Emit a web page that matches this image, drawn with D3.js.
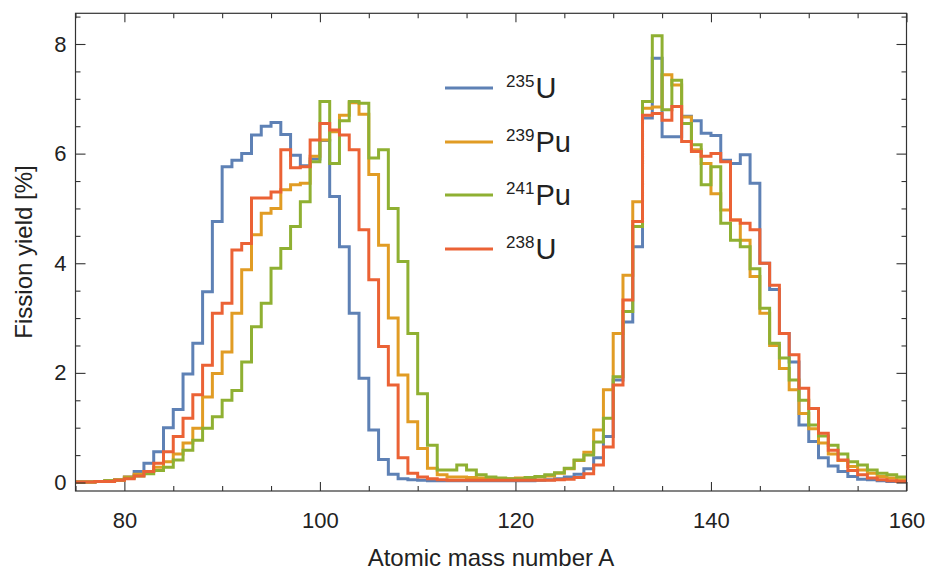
<!DOCTYPE html>
<html>
<head>
<meta charset="utf-8">
<script src="https://cdn.jsdelivr.net/npm/d3@7"></script>
<style>
  html, body { margin: 0; padding: 0; background: #fff; }
  svg { display: block; }
  text { font-family: "Liberation Sans", Arial, Helvetica, sans-serif; fill: #222; }
</style>
</head>
<body>
<svg id="chart" width="930" height="574"></svg>
<script>
// ---- data ----
const massNumbers = d3.range(75, 160); // A = 75 ... 159 (each step spans A..A+1)

const u235 = [
  0.01, 0.01, 0.02, 0.03, 0.05,                 // 75-79
  0.10, 0.20, 0.35, 0.56, 1.00, 1.33, 1.98, 2.54, 3.48, 4.76, // 80-89
  5.76, 5.88, 6.00, 6.34, 6.50, 6.57, 6.35, 5.97, 5.78, 5.90, // 90-99
  6.24, 5.22, 4.30, 3.09, 1.90, 0.96, 0.42, 0.15, 0.07, 0.05, // 100-109
  0.04, 0.03, 0.03, 0.03, 0.03, 0.03, 0.03, 0.03, 0.03, 0.03, // 110-119
  0.03, 0.03, 0.04, 0.05, 0.07, 0.10, 0.15, 0.25, 0.45, 0.84, // 120-129
  1.87, 2.93, 4.30, 6.65, 7.74, 6.31, 6.31, 6.68, 6.60, 6.37, // 130-139
  6.33, 5.88, 5.82, 5.98, 5.46, 4.00, 3.52, 2.72, 2.20, 1.05, // 140-149
  0.75, 0.45, 0.30, 0.20, 0.11, 0.06, 0.05, 0.03, 0.02, 0.02  // 150-159
];

const pu239 = [
  0.01, 0.01, 0.02, 0.03, 0.05,
  0.10, 0.15, 0.20, 0.28, 0.38, 0.52, 0.72, 0.99, 1.56, 1.99,
  2.38, 3.09, 3.88, 4.52, 4.91, 5.00, 5.34, 5.43, 5.46, 5.95,
  6.25, 6.40, 6.70, 6.93, 6.72, 5.62, 4.33, 3.00, 1.96, 1.11,
  0.62, 0.26, 0.14, 0.10, 0.10, 0.09, 0.08, 0.07, 0.07, 0.07,
  0.08, 0.09, 0.10, 0.12, 0.17, 0.25, 0.40, 0.55, 0.96, 1.69,
  2.72, 3.78, 5.12, 6.83, 6.85, 7.44, 7.25, 6.67, 6.07, 5.82,
  5.27, 4.97, 4.79, 4.42, 3.76, 3.09, 2.50, 2.08, 1.69, 1.26,
  0.98, 0.72, 0.52, 0.40, 0.29, 0.23, 0.17, 0.11, 0.08, 0.05
];

const pu241 = [
  0.01, 0.01, 0.02, 0.03, 0.04,
  0.08, 0.12, 0.16, 0.22, 0.28, 0.41, 0.59, 0.77, 0.99, 1.20,
  1.50, 1.68, 2.20, 2.84, 3.27, 3.91, 4.27, 4.67, 5.12, 5.85,
  6.95, 5.82, 6.60, 6.95, 6.92, 5.92, 6.07, 5.00, 4.03, 2.72,
  1.62, 0.68, 0.23, 0.23, 0.32, 0.23, 0.14, 0.10, 0.08, 0.07,
  0.07, 0.09, 0.11, 0.14, 0.18, 0.26, 0.41, 0.50, 0.74, 1.17,
  1.93, 3.12, 4.67, 6.95, 8.15, 6.80, 7.34, 6.55, 6.16, 5.43,
  5.76, 4.73, 4.42, 4.30, 3.90, 3.18, 2.54, 2.27, 1.87, 1.50,
  1.05, 0.85, 0.68, 0.52, 0.38, 0.32, 0.23, 0.17, 0.14, 0.10
];

const u238 = [
  0.01, 0.01, 0.02, 0.02, 0.04,
  0.07, 0.12, 0.20, 0.35, 0.56, 0.84, 1.17, 1.60, 2.14, 3.09,
  3.27, 4.24, 4.36, 5.19, 5.19, 5.30, 6.07, 5.74, 5.76, 6.25,
  6.55, 6.43, 6.34, 6.07, 4.61, 3.70, 2.48, 1.78, 0.45, 0.17,
  0.10, 0.07, 0.05, 0.04, 0.04, 0.04, 0.04, 0.04, 0.04, 0.04,
  0.04, 0.04, 0.04, 0.04, 0.05, 0.06, 0.09, 0.16, 0.32, 0.65,
  1.78, 3.33, 4.76, 6.70, 6.73, 6.61, 6.86, 6.22, 6.04, 5.95,
  6.00, 5.85, 4.79, 4.73, 4.61, 4.00, 3.60, 2.72, 2.33, 1.72,
  1.35, 0.90, 0.59, 0.41, 0.22, 0.14, 0.08, 0.05, 0.03, 0.02
];

const seriesNames = ["235", "239", "241", "238"];
const seriesElements = ["U", "Pu", "Pu", "U"];
const seriesValues = [u235, pu239, pu241, u238];
const seriesColors = ["#5E81B5", "#E19C24", "#8FB032", "#EB6235"];

const xMajorTicks = [80, 100, 120, 140, 160];
const xMinorTicks = [75, 85, 90, 95, 105, 110, 115, 125, 130, 135, 145, 150, 155];
const yMajorTicks = [0, 2, 4, 6, 8];
const yMinorTicks = [0.5, 1, 1.5, 2.5, 3, 3.5, 4.5, 5, 5.5, 6.5, 7, 7.5, 8.5];

// ---- layout ----
const svg = d3.select("#chart");
const plotL = 75.5, plotR = 906.5, plotT = 13.3, plotB = 491;
const x = d3.scaleLinear().domain([75, 160]).range([plotL, plotR]);
const y = d3.scaleLinear().domain([-0.155, 8.56]).range([plotB, plotT]);

svg.append("defs").append("clipPath").attr("id", "plotclip")
  .append("rect").attr("x", plotL).attr("y", plotT)
  .attr("width", plotR - plotL).attr("height", plotB - plotT);

// data lines
const line = d3.line()
  .x(d => x(d[0])).y(d => y(d[1]))
  .curve(d3.curveStepAfter);

const g = svg.append("g").attr("clip-path", "url(#plotclip)");
seriesValues.forEach((vals, i) => {
  const pts = massNumbers.map((a, j) => [a, vals[j]]);
  pts.push([160, vals[vals.length - 1]]);
  g.append("path")
    .attr("d", line(pts))
    .attr("fill", "none")
    .attr("stroke", seriesColors[i])
    .attr("stroke-width", 3)
    .attr("stroke-linejoin", "miter");
});

// frame
svg.append("rect")
  .attr("x", plotL).attr("y", plotT)
  .attr("width", plotR - plotL).attr("height", plotB - plotT)
  .attr("fill", "none").attr("stroke", "#333").attr("stroke-width", 1.2);

function styleAxis(sel) {
  sel.select(".domain").remove();
  sel.selectAll(".tick line").attr("stroke", "#333").attr("stroke-width", 1.1);
  sel.selectAll("text").style("font-family", '"Liberation Sans", Arial, sans-serif')
    .style("font-size", "22px").attr("fill", "#222");
}

// bottom axis
svg.append("g").attr("transform", `translate(0,${plotB})`)
  .call(d3.axisBottom(x).tickValues(xMajorTicks).tickSize(-9).tickPadding(21).tickFormat(d3.format("d")))
  .call(styleAxis);
svg.append("g").attr("transform", `translate(0,${plotB})`)
  .call(d3.axisBottom(x).tickValues(xMinorTicks).tickSize(-5).tickFormat(""))
  .call(styleAxis);
// top axis
svg.append("g").attr("transform", `translate(0,${plotT})`)
  .call(d3.axisTop(x).tickValues(xMajorTicks).tickSize(-9).tickFormat(""))
  .call(styleAxis);
svg.append("g").attr("transform", `translate(0,${plotT})`)
  .call(d3.axisTop(x).tickValues(xMinorTicks).tickSize(-5).tickFormat(""))
  .call(styleAxis);
// left axis
svg.append("g").attr("transform", `translate(${plotL},0)`)
  .call(d3.axisLeft(y).tickValues(yMajorTicks).tickSize(-10).tickPadding(9).tickFormat(d3.format("d")))
  .call(styleAxis);
svg.append("g").attr("transform", `translate(${plotL},0)`)
  .call(d3.axisLeft(y).tickValues(yMinorTicks).tickSize(-5).tickFormat(""))
  .call(styleAxis);
// right axis
svg.append("g").attr("transform", `translate(${plotR},0)`)
  .call(d3.axisRight(y).tickValues(yMajorTicks).tickSize(-10).tickFormat(""))
  .call(styleAxis);
svg.append("g").attr("transform", `translate(${plotR},0)`)
  .call(d3.axisRight(y).tickValues(yMinorTicks).tickSize(-5).tickFormat(""))
  .call(styleAxis);

// axis titles
svg.append("text")
  .attr("x", 491).attr("y", 566)
  .attr("text-anchor", "middle")
  .style("font-size", "24px")
  .text("Atomic mass number A");
svg.append("text")
  .attr("transform", `translate(32,252) rotate(-90)`)
  .attr("text-anchor", "middle")
  .style("font-size", "24px")
  .text("Fission yield [%]");

// legend
const legendY = [88, 142, 195, 249];
const lg = svg.append("g");
seriesNames.forEach((n, i) => {
  lg.append("line")
    .attr("x1", 445).attr("x2", 493)
    .attr("y1", legendY[i]).attr("y2", legendY[i])
    .attr("stroke", seriesColors[i]).attr("stroke-width", 3);
  const t = lg.append("text").attr("x", 506).attr("y", legendY[i] + 10);
  t.append("tspan").attr("dy", -11.5).style("font-size", "17px").text(n);
  t.append("tspan").attr("dy", 11.5).attr("dx", 1).style("font-size", "29px").text(seriesElements[i]);
});
</script>
</body>
</html>
